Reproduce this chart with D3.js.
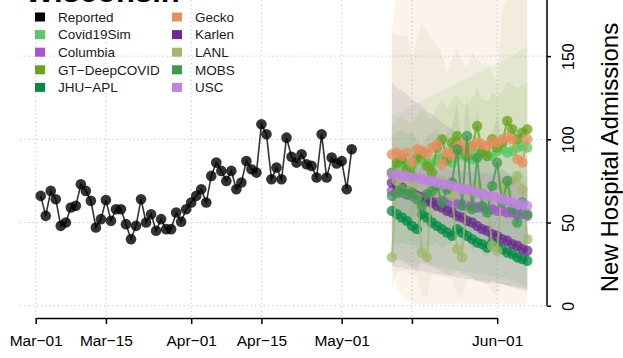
<!DOCTYPE html>
<html><head><meta charset="utf-8">
<script src="https://cdn.jsdelivr.net/npm/d3@7"></script>
<style>
body{margin:0;background:#fff;overflow:hidden}
svg{display:block;font-family:"Liberation Sans",Arial,Helvetica,sans-serif}
</style>
</head><body>
<svg id="c" width="623" height="358"></svg>
<script>
// ---------- DATA ----------
const title = "Wisconsin";
const yTitle = "New Hospital Admissions";
const reportedStart = [2021, 2, 2];   // Mar-02
const reported = [66,54,69,64,48,50,59,60,73,69,63,47,52,63.5,51,58,58,49,40,48,64,50,55,45,52,46,46,56,50.5,58,62,66,70,62,78,86,81,75,81,70,74,87,82,80,109,103,76,83,76,101,89.5,86,91,85,84,77,103,77,89,85.5,87,70,94];

const forecastStart = [2021, 4, 11]; // May-11, 28 daily values
const models = ["Covid19Sim","Columbia","GT\u2212DeepCOVID","JHU\u2212APL","Gecko","Karlen","LANL","MOBS","USC"];
const modelColors = ["#55CC66","#A355D2","#67A31F","#008C45","#E58F5E","#6A2D8F","#A3B86C","#3E9A4E","#BF83E0"];

const covid19sim   = [80,84,86,85,83,87,88,86,85,88,89,87,86,90,91,89,88,91,92,90,90,93,94,92,93,95,96,95];
const covid19simLo = [28,27,27,26,26,25,25,24,24,23,23,22,22,21,21,20,20,19,19,18,18,17,17,16,15,14,13,12];
const covid19simHi = [114,116,117,119,120,122,123,125,126,128,129,131,132,134,135,137,138,140,141,143,144,146,147,149,150,152,154,156];

const columbia   = [69,68,68,67,66,66,65,65,64,63,63,62,62,61,61,60,60,59,59,58,58,57,57,56,56,55,55,54];
const columbiaLo = [54,53,52,51,50,49,48,47,46,45,44,43,42,41,40,39,38,37,36,35,34,33,32,31,30,29,28,27];
const columbiaHi = [84,84,84,84,83,83,83,83,82,82,82,82,81,81,81,81,80,80,80,80,79,79,79,79,78,78,78,78];

const gt   = [80,86,88,82,78,89,92,84,80,95,100,88,98,102,93,90,96,108,93,90,100,95,98,111,106,100,104,106];
const gtLo = [52,56,57,53,50,56,58,53,50,58,61,54,60,62,57,55,58,65,57,55,60,57,59,66,63,60,62,63];
const gtHi = [108,112,114,111,109,115,118,114,112,120,124,118,124,127,122,121,124,131,124,123,128,126,128,135,133,131,133,134];

const jhu   = [57,55,53,51,48,46,55,53,50,48,46,44,42,46,44,42,40,38,37,35,38,36,34,32,31,29,28,27];
const jhuLo = [30,28,27,25,23,22,28,26,24,22,21,19,18,21,19,18,17,15,14,13,15,14,13,12,11,10,9,9];
const jhuHi = [88,85,83,81,77,75,86,83,80,77,74,72,69,74,71,68,66,63,61,59,63,60,58,55,53,51,49,47];

const gecko   = [91,92,90,92,86,94,93,91,95,97,85,92,90,95,97,92,96,98,97,96,99,98,100,101,100,88,86,100];
const geckoLo = [23,12,6,3,2,1,1,1,1,1,1,1,1,1,1,1,1,1,1,1,1,1,1,1,1,1,1,1];
const geckoHi = [165,190,205,210,210,210,210,210,210,210,210,210,210,210,210,210,210,210,210,210,210,210,210,210,210,210,210,210];

const karlen   = [74,72,71,69,68,66,65,63,62,60,59,57,56,54,53,51,50,48,46,45,43,42,40,39,37,36,34,33];
const karlenLo = [24,23,23,22,22,21,21,20,20,19,19,18,18,17,17,16,16,15,15,14,14,13,13,12,12,11,11,10];
const karlenHi = [134,131,129,127,124,122,120,117,115,113,110,108,106,103,101,99,96,94,92,89,87,85,82,80,78,75,73,71];

const lanl   = [29,75,70,68,72,65,32,29,72,68,75,70,66,34,29,70,66,73,68,64,36,33,72,68,75,78,70,40];
const lanlLo = [10,20,21,20,19,18,6,5,19,18,17,17,16,6,5,16,15,15,14,14,8,7,13,12,12,11,11,9];
const lanlHi = [164,163,162,163,149,160,170,165,160,156,152,140,148,155,147,143,152,148,145,146,140,134,178,185,190,190,188,190];

const mobs   = [66,68,70,67,68,64,60,67,69,72,62,70,74,94,60,102,58,89,60,56,72,86,62,75,58,50,62,55];
const mobsLo = [36,37,38,37,37,35,33,36,37,38,34,37,38,45,32,48,31,42,31,29,36,40,32,36,29,26,30,27];
const mobsHi = [102,104,106,103,104,100,96,102,104,106,98,104,108,122,96,126,94,118,95,92,104,114,96,106,92,86,94,88];

const usc   = [79,79,78,78,77,77,76,75,75,74,73,73,72,71,70,70,69,68,67,66,66,65,64,63,62,61,61,60];
const uscLo = [72,72,71,70,69,69,68,67,66,65,64,63,62,61,60,60,59,58,57,56,55,54,53,52,51,50,50,49];
const uscHi = [86,86,86,86,85,85,85,84,84,83,83,83,82,82,81,81,80,80,79,79,78,78,77,77,76,75,75,74];

const xTickDates = [[2021,2,1],[2021,2,15],[2021,3,1],[2021,3,15],[2021,4,1],[2021,4,15],[2021,5,1]];
const xTickLabels = ["Mar\u221201","Mar\u221215","Apr\u221201","Apr\u221215","May\u221201","","Jun\u221201"];
const yTicks = [0,50,100,150];
const gridY = [0,50,100,150];

// ---------- BUILD ----------
const series = [
  {v:covid19sim, lo:covid19simLo, hi:covid19simHi},
  {v:columbia, lo:columbiaLo, hi:columbiaHi},
  {v:gt, lo:gtLo, hi:gtHi},
  {v:jhu, lo:jhuLo, hi:jhuHi},
  {v:gecko, lo:geckoLo, hi:geckoHi},
  {v:karlen, lo:karlenLo, hi:karlenHi},
  {v:lanl, lo:lanlLo, hi:lanlHi},
  {v:mobs, lo:mobsLo, hi:mobsHi},
  {v:usc, lo:uscLo, hi:uscHi}
].map((s,i)=>({...s, name:models[i], color:modelColors[i]}));

const U = a => new Date(Date.UTC(a[0],a[1],a[2]));
const day = (start,i) => d3.utcDay.offset(U(start), i);

const svg = d3.select("#c");
const x = d3.scaleUtc().domain([U([2021,2,1]), U([2021,5,1])]).range([35.7, 497.2]);
const y = d3.scaleLinear().domain([0,100]).range([305.7,139.3]);

// grid
const grid = svg.append("g").attr("stroke","#c4c4c4").attr("stroke-dasharray","1.2,3").attr("stroke-width",1);
grid.selectAll(".gv").data(xTickDates).join("line")
  .attr("x1",d=>x(U(d))).attr("x2",d=>x(U(d))).attr("y1",0).attr("y2",318);
grid.selectAll(".gh").data(gridY).join("line")
  .attr("x1",20).attr("x2",547).attr("y1",d=>y(d)).attr("y2",d=>y(d));

// bands
const area = d3.area().x((d,i)=>x(day(forecastStart,i))).y0(d=>y(d[0])).y1(d=>y(d[1]));
svg.append("g").selectAll("path").data(series).join("path")
  .attr("d", s => area(s.lo.map((l,i)=>[l, s.hi[i]])))
  .attr("fill", s=>s.color).attr("fill-opacity",0.11).attr("stroke","none");

// reported
const lineR = d3.line().x((d,i)=>x(day(reportedStart,i))).y(d=>y(d));
const gr = svg.append("g");
gr.append("path").attr("d", lineR(reported)).attr("fill","none").attr("stroke","#000").attr("stroke-opacity",0.8).attr("stroke-width",1.6);
gr.selectAll("circle").data(reported).join("circle")
  .attr("cx",(d,i)=>x(day(reportedStart,i))).attr("cy",d=>y(d)).attr("r",5.3)
  .attr("fill","#000").attr("fill-opacity",0.8);

// forecasts
const lineF = d3.line().x((d,i)=>x(day(forecastStart,i))).y(d=>y(d));
series.forEach(s=>{
  const g = svg.append("g");
  g.append("path").attr("d", lineF(s.v)).attr("fill","none").attr("stroke",s.color).attr("stroke-opacity",0.75).attr("stroke-width",2);
  g.selectAll("circle").data(s.v).join("circle")
    .attr("cx",(d,i)=>x(day(forecastStart,i))).attr("cy",d=>y(d)).attr("r",5.2)
    .attr("fill",s.color).attr("fill-opacity",0.75);
});

// x axis
const xa = svg.append("g").attr("transform","translate(0,318)")
  .call(d3.axisBottom(x).tickValues(xTickDates.map(U)).tickSize(6).tickSizeOuter(0)
        .tickFormat((d,i)=>xTickLabels[i]));
xa.select(".domain").attr("stroke","#000").attr("stroke-width",1.5);
xa.selectAll(".tick line").attr("stroke","#000").attr("stroke-width",1.5);
xa.selectAll(".tick text").attr("font-size","15.5px").attr("font-family",null).attr("fill","#000").attr("y",28).attr("dy",null);

// y axis (right)
const ya = svg.append("g").attr("transform","translate(547,0)")
  .call(d3.axisRight(y).tickValues(yTicks).tickSize(4).tickSizeOuter(0).tickFormat(d3.format("d")));
ya.select(".domain").remove();
ya.append("line").attr("x1",0).attr("x2",0).attr("y1",y(0)).attr("y2",y(200)).attr("stroke","#000").attr("stroke-width",1.5);
ya.selectAll(".tick line").attr("stroke","#000").attr("stroke-width",1.5);
ya.selectAll(".tick text").attr("transform","rotate(-90)").attr("x",0).attr("y",27).attr("dy",null)
  .attr("text-anchor","middle").attr("font-size","16px").attr("font-family",null).attr("fill","#000");

svg.append("text").attr("transform","translate(618,157.5) rotate(-90)").attr("text-anchor","middle")
  .attr("font-size","24px").attr("fill","#000").text(yTitle);

// title (mostly above the visible area, as in the reference)
svg.append("text").attr("x",25).attr("y",2).attr("font-size","31px").attr("font-weight","bold").attr("fill","#000").text(title);

// legend
const legendItems = [{name:"Reported",color:"#000"}].concat(series.map(s=>({name:s.name,color:s.color})));
const lg = svg.append("g");
legendItems.forEach((d,i)=>{
  const col = i<5 ? 0 : 1, row = i%5;
  const gx = col===0 ? 35 : 172, gy = 17 + row*17.6;
  lg.append("rect").attr("x",gx).attr("y",gy-4.5).attr("width",10).attr("height",9).attr("fill",d.color);
  lg.append("text").attr("x",gx+23).attr("y",gy).attr("dy","0.35em").attr("font-size","13.5px").attr("fill","#1a1a1a").text(d.name);
});
</script>
</body></html>
